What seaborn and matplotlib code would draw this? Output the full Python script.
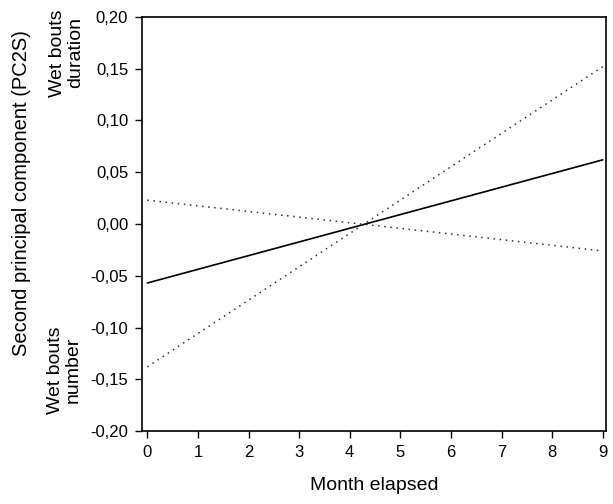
import matplotlib
matplotlib.use("Agg")
import matplotlib.pyplot as plt
import seaborn as sns
import pandas as pd
from matplotlib.ticker import FuncFormatter

months = [0, 9]
solid_line = [-0.057, 0.062]
dotted_steep = [-0.138, 0.152]
dotted_shallow = [0.023, -0.026]

x_ticks = list(range(0, 10))
y_ticks = [-0.20, -0.15, -0.10, -0.05, 0.00, 0.05, 0.10, 0.15, 0.20]

sns.set_theme(style="white")
plt.rcParams['font.family'] = ['Liberation Sans', 'DejaVu Sans']

fig = plt.figure(figsize=(6.13, 5.04), dpi=100)
ax = fig.add_axes([0.2317, 0.1448, 0.7569, 0.8215])

df = pd.DataFrame({
    "month": months * 3,
    "value": solid_line + dotted_steep + dotted_shallow,
    "series": ["solid"] * 2 + ["steep"] * 2 + ["shallow"] * 2,
})

sns.lineplot(data=df[df.series == "solid"], x="month", y="value", ax=ax,
             color="black", linewidth=1.2, legend=False)
sns.lineplot(data=df[df.series == "steep"], x="month", y="value", ax=ax,
             color="#333333", linewidth=1.1, linestyle=(0, (1, 3)), legend=False)
sns.lineplot(data=df[df.series == "shallow"], x="month", y="value", ax=ax,
             color="#333333", linewidth=1.1, linestyle=(0, (1, 3)), legend=False)

ax.set_xlim(-0.105, 9.065)
ax.set_ylim(-0.20, 0.20)
ax.set_xticks(x_ticks)
ax.set_yticks(y_ticks)
ax.yaxis.set_major_formatter(FuncFormatter(lambda v, p: f"{v:.2f}".replace(".", ",").replace("-0,00", "0,00")))
ax.tick_params(axis="both", which="major", direction="out", length=5, width=1,
               color="black", labelsize=12, labelcolor="black", pad=5,
               bottom=True, left=True)
for s in ax.spines.values():
    s.set_color("black")
    s.set_linewidth(1.2)
    s.set_visible(True)

ax.set_xlabel("Month elapsed", fontsize=14, labelpad=12, color="black")
ax.set_ylabel("")
fig.text(0.035, 1 - 193 / 504, "Second principal component (PC2S)", rotation=90,
         ha="center", va="center", fontsize=14.5, color="black")
fig.text(0.109, 0.895, "Wet bouts\nduration", rotation=90, ha="center", va="center",
         fontsize=14, color="black", linespacing=1.1)
fig.text(0.105, 0.266, "Wet bouts\nnumber", rotation=90, ha="center", va="center",
         fontsize=14, color="black", linespacing=1.1)

fig.savefig("out.png", dpi=100, facecolor="white")
